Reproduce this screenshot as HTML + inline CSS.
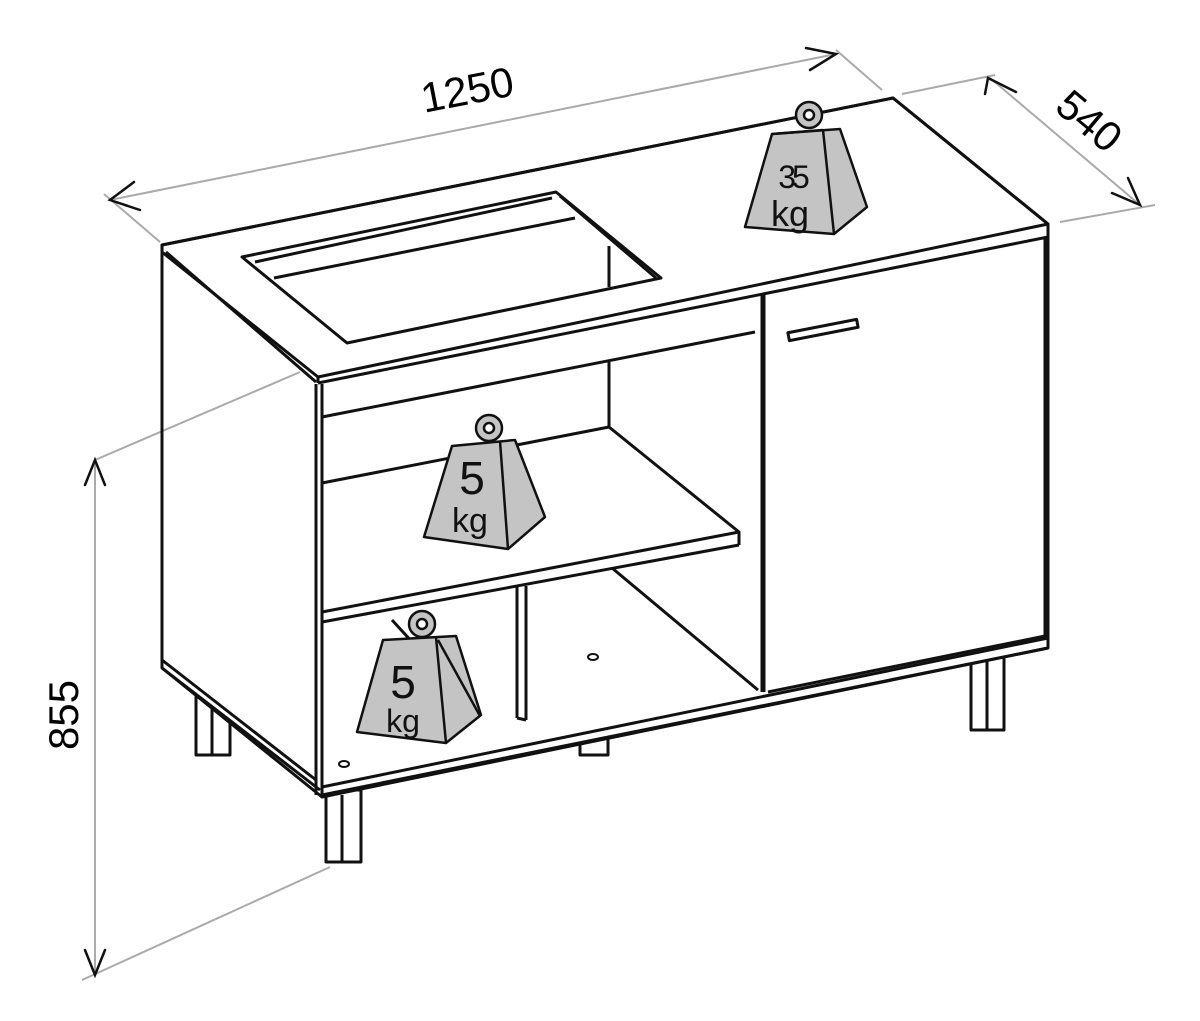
<!DOCTYPE html>
<html><head><meta charset="utf-8"><style>
html,body{margin:0;padding:0;background:#fff}
svg{display:block}
text{font-family:"Liberation Sans",sans-serif}
</style></head><body>
<svg width="1200" height="1021" viewBox="0 0 1200 1021" xmlns="http://www.w3.org/2000/svg">
<g stroke="#111" stroke-width="3" fill="none" stroke-linejoin="round">
<!-- legs -->
<rect x="196" y="697" width="34" height="58" fill="#fff"/>
<line x1="212" y1="697" x2="212" y2="755"/>
<rect x="580" y="735" width="28" height="20" fill="#fff"/>
<rect x="971" y="655" width="33" height="75" fill="#fff"/>
<line x1="987" y1="660" x2="987" y2="730"/>
<rect x="326" y="790" width="35" height="72" fill="#fff"/>
<line x1="342" y1="795" x2="342" y2="862"/>
<!-- body fill -->
<polygon points="162,245 893,98 1048,224 1048,648 322,797 162,668" fill="#fff"/>
</g>
<!-- dimension lines -->
<g stroke="#aaa" stroke-width="2" fill="none">
<line x1="110" y1="200" x2="836" y2="54"/>
<line x1="104" y1="194" x2="160" y2="242"/>
<line x1="836" y1="50" x2="882" y2="90"/>
<line x1="902" y1="94" x2="995" y2="75"/>
<line x1="990" y1="78" x2="1140" y2="205"/>
<line x1="1060" y1="222" x2="1155" y2="205"/>
<line x1="95" y1="460" x2="95" y2="975"/>
<line x1="95" y1="460" x2="300" y2="372"/>
<line x1="82" y1="980" x2="330" y2="867"/>
</g>
<g stroke="#111" stroke-width="2.5" fill="none" stroke-linecap="round">
<polyline points="134,182 110,200 140,210"/>
<polyline points="806,48 836,54 810,70"/>
<polyline points="985,94 988,78 1016,92"/>
<polyline points="1112,193 1140,205 1128,178"/>
<polyline points="85,485 95,460 105,485"/>
<polyline points="85,950 95,975 105,950"/>
</g>
<text x="470" y="104" font-size="42" text-anchor="middle" transform="rotate(-11 470 104)">1250</text>
<text x="1080" y="132" font-size="42" text-anchor="middle" transform="rotate(40 1080 132)">540</text>
<text x="78" y="715" font-size="42" text-anchor="middle" transform="rotate(-90 78 715)">855</text>

<g stroke="#111" stroke-width="3" fill="none" stroke-linejoin="round">
<!-- top -->
<polygon points="162,245 893,98 1048,224 318,377 162,252" />
<line x1="318" y1="377" x2="318" y2="383"/>
<line x1="318" y1="383" x2="1048" y2="237"/>
<line x1="1048" y1="224" x2="1048" y2="237"/>
<line x1="166" y1="252" x2="316" y2="382"/>
<!-- sink -->
<polygon points="242,257 556,192 661,278 347,343"/>
<line x1="255" y1="262" x2="552" y2="198"/>
<line x1="274" y1="278" x2="575" y2="218"/>
<line x1="560" y1="196" x2="656" y2="278"/>
<line x1="609" y1="246" x2="609" y2="287"/>
<!-- left side -->
<line x1="162" y1="252" x2="162" y2="668"/>
<line x1="162" y1="668" x2="320" y2="790"/>
<line x1="162" y1="660" x2="316" y2="780"/>
<line x1="316" y1="384" x2="316" y2="795"/>
<line x1="322" y1="384" x2="322" y2="795"/>
<!-- front rail and interior -->
<line x1="322" y1="417" x2="755" y2="332"/>
<line x1="609" y1="362" x2="609" y2="427"/>
<line x1="322" y1="483" x2="609" y2="427"/>
<polyline points="609,427 739,532 739,545"/>
<line x1="322" y1="612" x2="739" y2="532"/>
<line x1="322" y1="622" x2="739" y2="545"/>
<line x1="517" y1="587" x2="517" y2="718"/>
<line x1="526" y1="586" x2="526" y2="720"/>
<line x1="517" y1="718" x2="526" y2="720"/>
<line x1="612" y1="568" x2="758" y2="690"/>
<line x1="392" y1="620" x2="480" y2="716"/>
<!-- bottom board -->
<line x1="322" y1="787" x2="1048" y2="638"/>
<line x1="322" y1="795" x2="1048" y2="648"/>
<line x1="1048" y1="638" x2="1048" y2="648"/>
<!-- right side panel front -->
<line x1="1045" y1="237" x2="1045" y2="640"/>
<!-- door -->
<line x1="763" y1="294" x2="763" y2="692" stroke-width="5"/>
<line x1="768" y1="692" x2="1045" y2="636"/>
<rect x="788" y="326" width="70" height="8" transform="rotate(-11 823 330)" fill="#fff" stroke-width="3"/>
<!-- holes -->
<ellipse cx="593" cy="657" rx="5" ry="3" stroke-width="2"/>
<ellipse cx="344" cy="764" rx="5" ry="3" stroke-width="2"/>
</g>

<!-- weights -->
<g stroke="#111" stroke-width="2.5" stroke-linejoin="round">
<g>
<circle cx="809" cy="115" r="13" fill="#c4c4c4"/><circle cx="809" cy="115" r="5" fill="#fff"/>
<polygon points="772,134 840,129 867,207 834,234 745,227" fill="#c4c4c4"/>
<line x1="823" y1="130" x2="834" y2="234"/>
<line x1="772" y1="134" x2="823" y2="130"/>
</g>
<g>
<circle cx="489" cy="428" r="13" fill="#c4c4c4"/><circle cx="489" cy="428" r="5" fill="#fff"/>
<polygon points="452,446 515,440 545,517 508,549 424,537" fill="#c4c4c4"/>
<line x1="500" y1="441" x2="508" y2="549"/>
</g>
<g>
<circle cx="422" cy="624" r="13" fill="#c4c4c4"/><circle cx="422" cy="624" r="5" fill="#fff"/>
<polygon points="383,640 456,636 481,715 446,743 357,732" fill="#c4c4c4"/>
<line x1="436" y1="637" x2="446" y2="743"/>
<line x1="438" y1="640" x2="480" y2="716"/>
</g>
</g>
<g fill="#111" text-anchor="middle">
<text x="792" y="188" font-size="32" letter-spacing="-4">35</text>
<text x="790" y="226" font-size="36">kg</text>
<text x="472" y="494" font-size="46">5</text>
<text x="470" y="532" font-size="34">kg</text>
<text x="403" y="698" font-size="46">5</text>
<text x="403" y="732" font-size="32">kg</text>
</g>
</svg>
</body></html>
